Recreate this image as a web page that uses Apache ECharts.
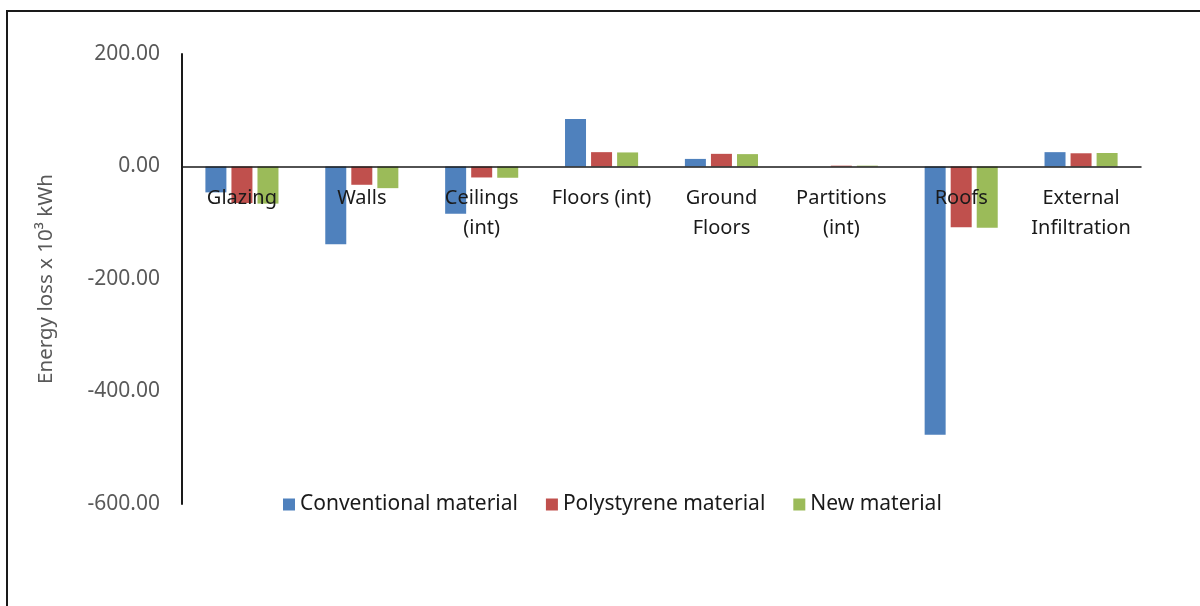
<!DOCTYPE html>
<html>
<head>
<meta charset="utf-8">
<title>Energy loss by building element</title>
<script src="https://cdn.jsdelivr.net/npm/echarts@6/dist/echarts.min.js"></script>
<style>
  html, body { margin: 0; padding: 0; background: #ffffff; }
  #chart { width: 1200px; height: 606px; }
</style>
</head>
<body>
<div id="chart"></div>
<script>
// Building elements along the category axis
const categories = ['Glazing', 'Walls', 'Ceilings\n(int)', 'Floors (int)', 'Ground\nFloors',
                    'Partitions\n(int)', 'Roofs', 'External\nInfiltration'];

// Energy loss, x 10^3 kWh
const conventional = [-46, -138, -84, 84.5, 13.5, 0, -477, 25.5];
const polystyrene  = [-65, -32.5, -19.5, 25.5, 22.5, 1.5, -108, 23.5];
const newMaterial  = [-66, -38.5, -20, 25, 22, 1.5, -109, 24];

const seriesNames = ['Conventional material', 'Polystyrene material', 'New material'];
const seriesColors = ['#4F81BD', '#C0504D', '#9BBB59'];

const yMin = -600, yMax = 200, yStep = 200;
const font = '"Noto Sans", "Open Sans", sans-serif';

// Plot area in pixels
const gridTop = 54, gridBottom = 102, chartHeight = 606;
const plotHeight = chartHeight - gridTop - gridBottom;
// Distance from the bottom edge of the plot up to the zero line
const zeroLift = plotHeight * (0 - yMin) / (yMax - yMin);

const chart = echarts.init(document.getElementById('chart'), null, { renderer: 'canvas' });

const makeBar = (name, data, color) => ({
  name: name,
  type: 'bar',
  data: data,
  barWidth: 21,
  barGap: '24%',
  itemStyle: { color: color },
  emphasis: { disabled: true }
});

chart.setOption({
  animation: false,
  backgroundColor: '#ffffff',
  grid: { left: 182, right: 59, top: gridTop, bottom: gridBottom, containLabel: false },
  legend: {
    data: seriesNames,
    left: 283,
    top: 494,
    padding: 0,
    icon: 'rect',
    itemWidth: 12,
    itemHeight: 12,
    itemGap: 28,
    textStyle: { fontFamily: font, fontSize: 21, color: '#1a1a1a' }
  },
  xAxis: {
    type: 'category',
    data: categories,
    z: 10,
    position: 'bottom',
    offset: -zeroLift,
    axisLine: { onZero: false, lineStyle: { color: '#1a1a1a', width: 1.5 } },
    axisTick: { show: false },
    axisLabel: {
      interval: 0,
      margin: 17,
      fontFamily: font,
      fontSize: 20,
      lineHeight: 30,
      color: '#1a1a1a'
    },
    splitLine: { show: false }
  },
  yAxis: {
    type: 'value',
    min: yMin,
    max: yMax,
    interval: yStep,
    name: 'Energy loss x 10³ kWh',
    nameLocation: 'middle',
    nameGap: 125,
    nameRotate: 90,
    nameTextStyle: { fontFamily: font, fontSize: 20.5, color: '#595959' },
    axisLine: { show: true, lineStyle: { color: '#1a1a1a', width: 2 } },
    axisTick: { show: false },
    splitLine: { show: false },
    axisLabel: {
      margin: 22,
      fontFamily: font,
      fontSize: 21,
      color: '#595959',
      formatter: v => v.toFixed(2)
    }
  },
  graphic: [{
    type: 'rect',
    shape: { x: 7, y: 11, width: 1400, height: 800 },
    style: { fill: 'none', stroke: '#1a1a1a', lineWidth: 2 },
    silent: true
  }],
  series: [
    makeBar(seriesNames[0], conventional, seriesColors[0]),
    makeBar(seriesNames[1], polystyrene, seriesColors[1]),
    makeBar(seriesNames[2], newMaterial, seriesColors[2])
  ]
});
</script>
</body>
</html>
